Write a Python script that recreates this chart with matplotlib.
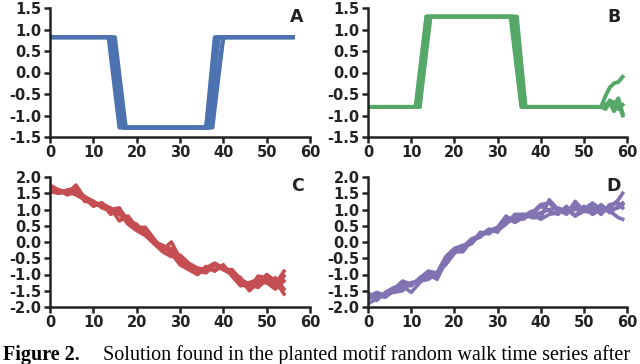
import numpy as np
import matplotlib
matplotlib.use("Agg")
import matplotlib.pyplot as plt

# --- panel A: step-down / step-up motif (knots) ---
a_x = [
    [0, 13.5, 16.0, 36.0, 38.0, 56],
    [0, 14.0, 16.5, 36.5, 39.0, 56],
    [0, 14.5, 17.0, 36.0, 38.5, 56],
    [0, 15.0, 17.5, 37.0, 40.0, 56],
    [0, 14.0, 17.0, 37.5, 40.0, 56],
]
a_y = [0.82, 0.82, -1.28, -1.28, 0.82, 0.82]

# --- panel B: step-up / step-down motif, ragged tail ---
b_x = [
    [0, 11.0, 13.5, 33.0, 35.5, 54, 55, 56, 57, 58, 59],
    [0, 11.5, 14.0, 33.5, 36.0, 54, 55, 56, 57, 58, 59],
    [0, 12.0, 14.5, 34.0, 36.5, 54, 55, 56, 57, 58, 59],
    [0, 12.0, 13.5, 34.5, 36.5, 54, 55, 56, 57, 58, 59],
]
b_y = [
    [-0.8, -0.8, 1.3, 1.3, -0.8, -0.8, -0.55, -0.35, -0.25, -0.22, -0.10],
    [-0.8, -0.8, 1.3, 1.3, -0.8, -0.8, -0.85, -0.70, -0.75, -0.60, -0.95],
    [-0.8, -0.8, 1.3, 1.3, -0.8, -0.8, -0.75, -0.70, -0.90, -0.70, -1.00],
    [-0.8, -0.8, 1.3, 1.3, -0.8, -0.8, -0.80, -0.65, -0.70, -0.85, -0.75],
]

# --- panel C: descending random walks ---
c_x = list(range(0, 55, 2))
c_y = [
    [1.60, 1.55, 1.50, 1.75, 1.35, 1.10, 1.20, 1.00, 1.05, 0.60, 0.50, 0.30, 0.00, -0.10,
     -0.25, -0.65, -0.70, -1.00, -0.80, -0.65, -0.80, -0.90, -1.25, -1.45, -1.05, -1.10, -1.30, -0.90],
    [1.75, 1.60, 1.55, 1.45, 1.30, 1.15, 1.15, 1.05, 0.65, 0.80, 0.45, 0.45, 0.10, -0.25,
     0.00, -0.50, -0.80, -0.85, -0.90, -0.70, -0.85, -1.00, -1.30, -1.35, -1.30, -1.00, -1.20, -1.60],
    [1.55, 1.50, 1.60, 1.65, 1.25, 1.25, 1.05, 0.95, 0.85, 0.65, 0.55, 0.20, -0.05, -0.30,
     -0.45, -0.40, -0.65, -0.80, -0.85, -0.85, -0.75, -0.95, -1.10, -1.50, -1.25, -1.25, -1.45, -1.20],
    [1.65, 1.60, 1.45, 1.55, 1.40, 1.25, 1.10, 0.95, 0.90, 0.55, 0.35, 0.20, 0.05, -0.15,
     -0.35, -0.70, -0.85, -1.00, -0.75, -0.90, -0.70, -1.05, -1.35, -1.25, -1.15, -1.25, -1.10, -1.45],
    [1.60, 1.50, 1.55, 1.60, 1.30, 1.15, 1.20, 0.85, 1.00, 0.70, 0.40, 0.35, -0.05, -0.15,
     -0.20, -0.55, -0.70, -0.90, -0.95, -0.70, -0.85, -0.85, -1.15, -1.30, -1.40, -1.15, -1.35, -1.05],
]

# --- panel D: ascending random walks ---
d_x = list(range(0, 59, 2)) + [59]
d_y = [
    [-1.70, -1.55, -1.65, -1.45, -1.20, -1.30, -1.15, -0.90, -1.05, -0.55, -0.25, -0.20, 0.00, 0.20, 0.30,
     0.40, 0.65, 0.80, 0.70, 0.90, 1.15, 1.20, 0.95, 0.90, 1.10, 1.00, 1.20, 1.00, 1.05, 1.30, 1.50],
    [-1.90, -1.75, -1.60, -1.55, -1.50, -1.25, -1.20, -1.15, -0.95, -0.70, -0.35, -0.15, -0.05, 0.25, 0.35,
     0.35, 0.55, 0.85, 0.85, 0.75, 0.75, 1.30, 1.00, 0.85, 1.25, 0.95, 0.90, 1.15, 0.90, 1.10, 1.20],
    [-1.55, -1.80, -1.55, -1.40, -1.35, -1.55, -1.25, -1.00, -1.15, -0.60, -0.30, -0.30, 0.05, 0.15, 0.40,
     0.30, 0.70, 0.65, 0.80, 0.95, 0.70, 0.85, 0.90, 1.00, 0.80, 1.10, 0.85, 1.00, 0.95, 0.75, 0.70],
    [-1.75, -1.65, -1.70, -1.50, -1.30, -1.35, -1.10, -0.90, -0.95, -0.45, -0.20, -0.10, -0.05, 0.30, 0.25,
     0.45, 0.80, 0.60, 0.75, 0.85, 1.10, 0.95, 0.85, 1.10, 0.80, 0.95, 1.10, 0.85, 1.15, 1.20, 1.05],
    [-1.65, -1.70, -1.60, -1.45, -1.40, -1.30, -1.20, -1.05, -1.00, -0.50, -0.30, -0.15, 0.10, 0.20, 0.35,
     0.45, 0.60, 0.70, 0.85, 0.80, 0.90, 1.00, 1.05, 0.95, 1.00, 1.05, 1.00, 1.10, 1.00, 1.05, 1.15],
]

colors = {"A": "#4c72b0", "B": "#55a868", "C": "#c44e52", "D": "#8172b2"}

fig = plt.figure(figsize=(6.4, 3.64), dpi=100)
W, H = 640, 364

def make_ax(left, top, right, bottom):
    return fig.add_axes([left / W, 1 - bottom / H, (right - left) / W, (bottom - top) / H])

axA = make_ax(50, 8, 310, 137)
axB = make_ax(368, 8, 627, 137)
axC = make_ax(50, 177, 310, 307)
axD = make_ax(368, 177, 627, 307)

for xs in a_x:
    axA.plot(xs, a_y, color=colors["A"], lw=2.8, solid_joinstyle="round")
for xs, ys in zip(b_x, b_y):
    axB.plot(xs, ys, color=colors["B"], lw=2.8, solid_joinstyle="round")
for ys in c_y:
    axC.plot(c_x, ys, color=colors["C"], lw=2.6, solid_joinstyle="round")
for ys in d_y:
    axD.plot(d_x, ys, color=colors["D"], lw=2.6, solid_joinstyle="round")

for ax, lab, lim in [(axA, "A", 1.5), (axB, "B", 1.5), (axC, "C", 2.0), (axD, "D", 2.0)]:
    ax.set_xlim(0, 60)
    ax.set_ylim(-lim, lim)
    ax.set_xticks(np.arange(0, 61, 10))
    ax.set_yticks(np.arange(-lim, lim + 0.01, 0.5))
    ax.yaxis.set_major_formatter(matplotlib.ticker.FormatStrFormatter("%.1f"))
    for s in ["top", "right"]:
        ax.spines[s].set_visible(False)
    for s in ["left", "bottom"]:
        ax.spines[s].set_linewidth(1.8)
        ax.spines[s].set_color("#222222")
    ax.tick_params(direction="out", length=4, width=1.8, color="#222222", pad=2)
    for t in ax.get_xticklabels() + ax.get_yticklabels():
        t.set_fontfamily("DejaVu Sans")
        t.set_fontweight("bold")
        t.set_fontsize(10.5)
        t.set_color("#222222")
    ax.text(0.975, 1.0, lab, transform=ax.transAxes, ha="right", va="top",
            fontsize=12.5, fontweight="bold", family="DejaVu Sans", color="#222222")

fig.text(3 / W, 4 / H, "Figure 2.", ha="left", va="baseline",
         family="Liberation Serif", fontweight="bold", fontsize=14.5)
fig.text(103 / W, 4 / H, "Solution found in the planted motif random walk time series after",
         ha="left", va="baseline", family="Liberation Serif", fontsize=14.5)

fig.savefig("out.png", dpi=100)
